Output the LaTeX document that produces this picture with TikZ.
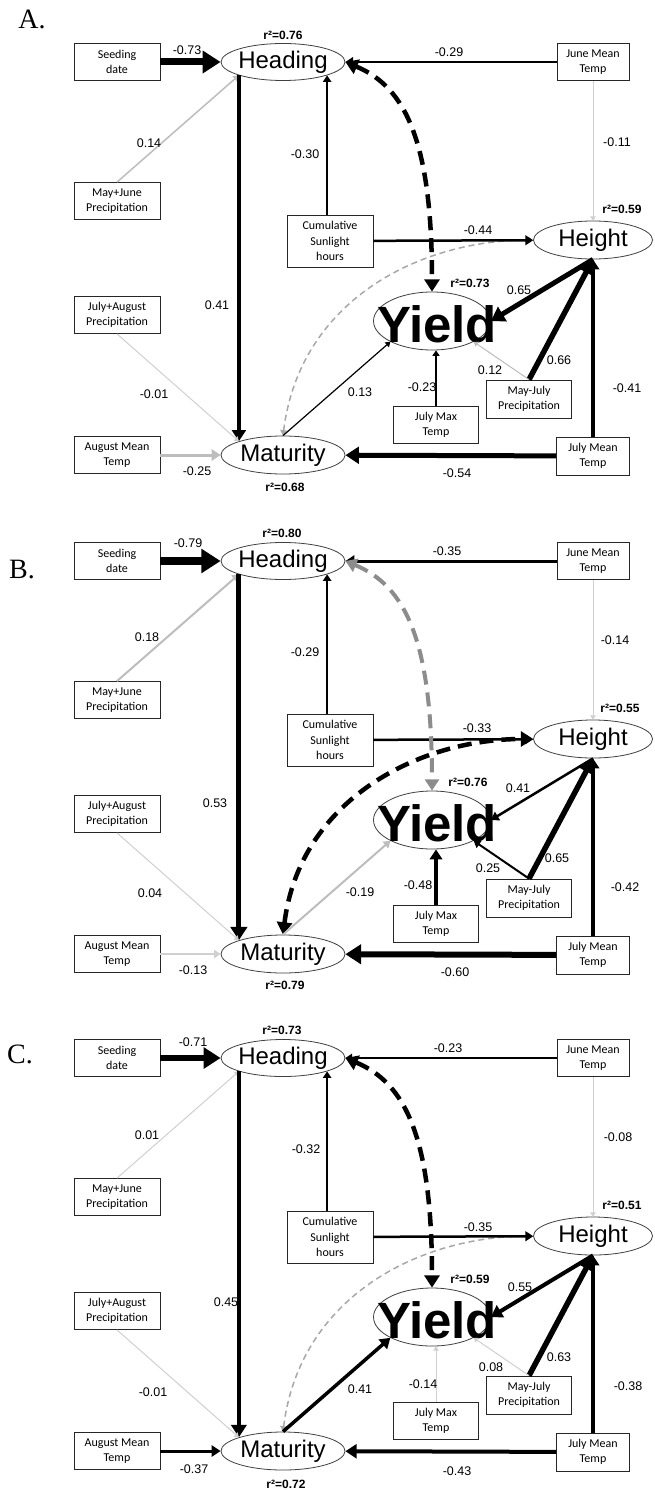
\documentclass[tikz,border=0pt]{standalone}
\usepackage{fontspec}
\setmainfont{Liberation Sans}
\newfontfamily\carlito{Carlito}
\newfontfamily\serifA{Liberation Serif}
\usetikzlibrary{arrows.meta,shapes.geometric}
\definecolor{lg}{HTML}{D0D0D0}
\definecolor{mg}{HTML}{BDBDBD}
\definecolor{dg}{HTML}{A8A8A8}
\definecolor{bg}{HTML}{8C8C8C}
\tikzset{
 box/.style={draw=black!85, line width=0.8pt, minimum width=86pt, minimum height=37pt, inner sep=1pt, align=center, font=\carlito\fontsize{12}{15.5}\selectfont},
 ell/.style={ellipse, draw=black!75, line width=0.8pt, inner sep=0pt, minimum width=124pt, minimum height=37pt},
 elltxt/.style={font=\fontsize{24}{24}\selectfont, inner sep=0pt},
 yldtxt/.style={font=\bfseries\fontsize{51}{51}\selectfont, inner sep=0pt},
 num/.style={font=\fontsize{12.5}{13}\selectfont, inner sep=0pt},
 rsq/.style={font=\bfseries\fontsize{12}{13}\selectfont, inner sep=0pt},
 pletter/.style={font=\serifA\fontsize{28}{28}\selectfont, inner sep=0pt},
 tip/.style={-{Triangle[length=2pt 2.3,width=3pt 2.7]}},
 dtip/.style={{Triangle[length=2pt 2.3,width=3pt 2.7]}-{Triangle[length=2pt 2.3,width=3pt 2.7]}},
 pe/.style 2 args={line width=#1pt, draw=#2, tip},
 thinDash/.style={line width=1.5pt, draw=dg, dash pattern=on 6pt off 4pt, dtip},
 thickDash/.style={line width=#1pt, dash pattern=on 14pt off 8pt, dtip},
}
\newcommand\mknodes[1]{%
 \node[box] (#1seed) at (117,62) {Seeding\\date};
 \node[box] (#1mj) at (117,201) {May+June\\Precipitation};
 \node[box] (#1ja) at (117,315) {July+August\\Precipitation};
 \node[box] (#1am) at (117,455) {August Mean\\Temp};
 \node[ell, label={[elltxt]center:Heading}] (#1head) at (283,62) {};
 \node[ell, minimum height=38pt, label={[elltxt]center:Maturity}] (#1mat) at (283,455) {};
 \node[box, minimum height=52pt] (#1cum) at (330,241) {Cumulative\\Sunlight\\hours};
 \node[box, minimum width=72pt] (#1jun) at (593,62) {June Mean\\Temp};
 \node[ell, minimum width=119pt, minimum height=38pt, label={[elltxt]center:Height}] (#1hgt) at (593,240) {};
 \node[ell, minimum width=117pt, minimum height=58pt, label={[yldtxt,xshift=5pt,yshift=-3pt]center:Yield}] (#1yld) at (432,321) {};
 \node[box, minimum width=85pt, minimum height=38pt] (#1mjul) at (529,399) {May-July\\Precipitation};
 \node[box, minimum width=85pt] (#1jmax) at (436,425) {July Max\\Temp};
 \node[box, minimum width=73pt, minimum height=38pt] (#1jmean) at (593,456) {July Mean\\Temp};
}
\begin{document}
\begin{tikzpicture}[x=1pt,y=-1pt]
\useasboundingbox (0,0) rectangle (654,1490);
\fill[white] (0,0) rectangle (654,1490);
% ---------------- Panel A ----------------
\begin{scope}
\node[pletter] (la) at (32,19) {A.};
\mknodes{a}
\draw[pe={7}{black}] (aseed) -- (ahead);
\draw[pe={1.5}{mg}] (amj.north) -- (ahead.south west);
\draw[pe={4}{black}] (ahead.south west) -- (amat.north west);
\draw[pe={2}{black}] (ahead.south east |- acum.north) -- (ahead.south east);
\draw[pe={2.5}{black}] (ajun) -- (ahead);
\draw[pe={1}{lg}] (ajun) -- (ahgt);
\draw[thinDash] (amat.north) .. controls (300,300) and (420,240) .. (ahgt.west);
\draw[pe={2.5}{black}] (acum) -- (ahgt);
\draw[thickDash=4.5] (ahead.east) .. controls +(60,25) and +(0,-150) .. (ayld.north);
\draw[pe={5}{black}] (ahgt.south) -- (ayld.east);
\draw[pe={5.5}{black}] (amjul.north) -- (ahgt.south);
\draw[pe={1}{mg}] (amjul.north) -- (ayld.south east);
\draw[pe={1.5}{black}] (ajmax.north) -- (ajmax.north |- ayld.south);
\draw[pe={3.5}{black}] (ajmean.north) -- (ahgt.south);
\draw[pe={5}{black}] (ajmean) -- (amat);
\draw[pe={1.2}{black}] (amat.north) -- (ayld.south west);
\draw[pe={1}{lg}] (aja.south) -- (amat.north west);
\draw[pe={3}{mg}] (aam) -- (amat);
\node[num] at (187,50) {-0.73};
\node[rsq] at (283,35) {r²=0.76};
\node[num] at (149,143) {0.14};
\node[num] at (305,154) {-0.30};
\node[num] at (449,52) {-0.29};
\node[num] at (617,142) {-0.11};
\node[rsq] at (622,209) {r²=0.59};
\node[num] at (478,230) {-0.44};
\node[num] at (217,305) {0.41};
\node[num] at (154,394) {-0.01};
\node[num] at (197,471) {-0.25};
\node[rsq] at (285,487) {r²=0.68};
\node[rsq] at (470,283) {r²=0.73};
\node[num] at (519,290) {0.65};
\node[num] at (559,360) {0.66};
\node[num] at (490,370) {0.12};
\node[num] at (360,392) {0.13};
\node[num] at (422,387) {-0.23};
\node[num] at (627,388) {-0.41};
\node[num] at (457,473) {-0.54};
\end{scope}
% ---------------- Panel B ----------------
\begin{scope}[yshift=-499pt]
\node[pletter] (lb) at (22,71) {B.};
\mknodes{b}
\draw[pe={7.5}{black}] (bseed) -- (bhead);
\draw[pe={2}{mg}] (bmj.north) -- (bhead.south west);
\draw[pe={5}{black}] (bhead.south west) -- (bmat.north west);
\draw[pe={2}{black}] (bhead.south east |- bcum.north) -- (bhead.south east);
\draw[pe={3}{black}] (bjun) -- (bhead);
\draw[pe={1}{lg}] (bjun) -- (bhgt);
\draw[pe={2.5}{black}] (bcum) -- (bhgt);
\draw[thickDash=4.5] (bmat.north) .. controls (300,300) and (420,240) .. (bhgt.west);
\draw[thickDash=4, draw=bg, fill=none, {Triangle[length=2pt 2.3,width=3pt 2.7,color=bg]}-{Triangle[length=2pt 2.3,width=3pt 2.7,color=bg]}] (bhead.east) .. controls +(60,25) and +(0,-150) .. (byld.north);
\draw[pe={2.5}{black}] (bhgt.south) -- (byld.east);
\draw[pe={5.5}{black}] (bmjul.north) -- (bhgt.south);
\draw[pe={2}{black}] (bmjul.north) -- (byld.south east);
\draw[pe={3.5}{black}] (bjmax.north) -- (bjmax.north |- byld.south);
\draw[pe={3.5}{black}] (bjmean.north) -- (bhgt.south);
\draw[pe={6}{black}] (bjmean) -- (bmat);
\draw[pe={2}{mg}] (bmat.north) -- (byld.south west);
\draw[pe={1}{lg}] (bja.south) -- (bmat.north west);
\draw[pe={2}{lg}] (bam) -- (bmat);
\node[num] at (188,44) {-0.79};
\node[rsq] at (282,34) {r²=0.80};
\node[num] at (147,138) {0.18};
\node[num] at (305,153) {-0.29};
\node[num] at (447,52) {-0.35};
\node[num] at (615,141) {-0.14};
\node[rsq] at (620,209) {r²=0.55};
\node[num] at (477,229) {-0.33};
\node[num] at (215,304) {0.53};
\node[num] at (150,394) {0.04};
\node[num] at (193,471) {-0.13};
\node[rsq] at (285,486) {r²=0.79};
\node[rsq] at (468,283) {r²=0.76};
\node[num] at (518,289) {0.41};
\node[num] at (557,359) {0.65};
\node[num] at (488,369) {0.25};
\node[num] at (360,393) {-0.19};
\node[num] at (418,386) {-0.48};
\node[num] at (625,388) {-0.42};
\node[num] at (455,473) {-0.60};
\end{scope}
% ---------------- Panel C ----------------
\begin{scope}[yshift=-996pt]
\node[pletter] (lc) at (20,58) {C.};
\mknodes{c}
\draw[pe={6.5}{black}] (cseed) -- (chead);
\draw[pe={1}{lg}] (cmj.north) -- (chead.south west);
\draw[pe={4.5}{black}] (chead.south west) -- (cmat.north west);
\draw[pe={2}{black}] (chead.south east |- ccum.north) -- (chead.south east);
\draw[pe={2}{black}] (cjun) -- (chead);
\draw[pe={1}{lg}] (cjun) -- (chgt);
\draw[thinDash] (cmat.north) .. controls (300,300) and (420,240) .. (chgt.west);
\draw[pe={2.5}{black}] (ccum) -- (chgt);
\draw[thickDash=4.5] (chead.east) .. controls +(60,25) and +(0,-150) .. (cyld.north);
\draw[pe={4}{black}] (chgt.south) -- (cyld.east);
\draw[pe={5.5}{black}] (cmjul.north) -- (chgt.south);
\draw[pe={1}{lg}] (cmjul.north) -- (cyld.south east);
\draw[pe={1}{lg}] (cjmax.north) -- (cjmax.north |- cyld.south);
\draw[pe={3.5}{black}] (cjmean.north) -- (chgt.south);
\draw[pe={4}{black}] (cjmean) -- (cmat);
\draw[pe={3.5}{black}] (cmat.north) -- (cyld.south west);
\draw[pe={1}{lg}] (cja.south) -- (cmat.north west);
\draw[pe={3}{black}] (cam) -- (cmat);
\node[num] at (193,46) {-0.71};
\node[rsq] at (282,34) {r²=0.73};
\node[num] at (147,139) {0.01};
\node[num] at (306,153) {-0.32};
\node[num] at (448,52) {-0.23};
\node[num] at (618,141) {-0.08};
\node[rsq] at (622,209) {r²=0.51};
\node[num] at (478,231) {-0.35};
\node[num] at (226,306) {0.45};
\node[num] at (153,396) {-0.01};
\node[num] at (194,473) {-0.37};
\node[rsq] at (286,488) {r²=0.72};
\node[rsq] at (470,283) {r²=0.59};
\node[num] at (520,291) {0.55};
\node[num] at (559,361) {0.63};
\node[num] at (491,371) {0.08};
\node[num] at (360,393) {0.41};
\node[num] at (423,388) {-0.14};
\node[num] at (628,390) {-0.38};
\node[num] at (457,475) {-0.43};
\end{scope}
\end{tikzpicture}
\end{document}
